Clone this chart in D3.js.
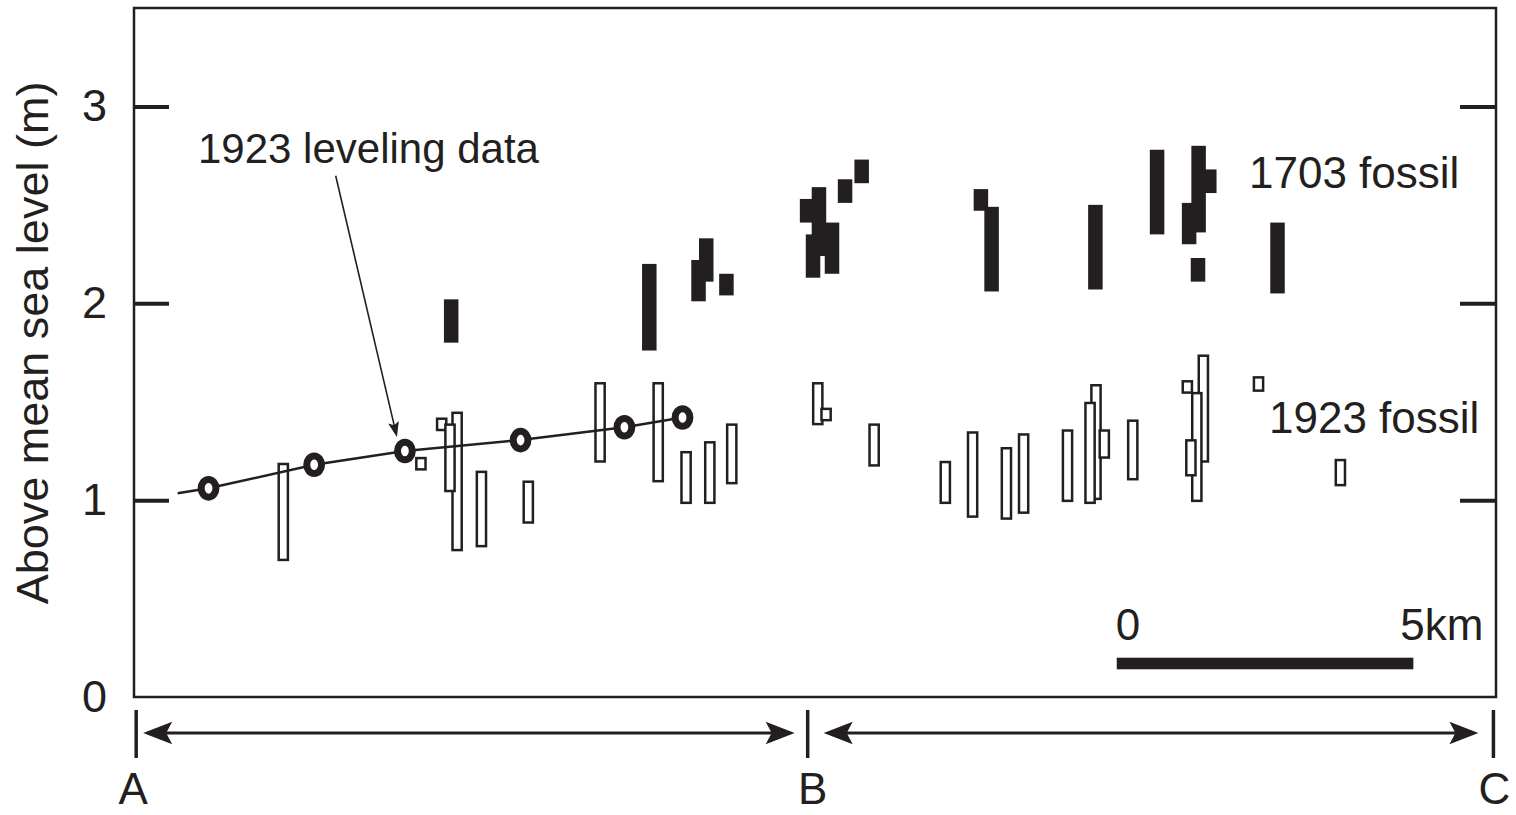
<!DOCTYPE html>
<html>
<head>
<meta charset="utf-8">
<script src="https://cdn.jsdelivr.net/npm/d3@7.9.0/dist/d3.min.js"></script>
<style>
body { margin: 0; background: #fff; }
svg { display: block; font-family: "Liberation Sans", Arial, sans-serif; }
</style>
</head>
<body>
<svg id="chart" width="1516" height="815"></svg>
<script>
// [distance along profile (km), bottom (m), top (m)]
const fossil1703 = [
    [5.33, 1.80, 2.02],
    [8.67, 1.76, 2.20],
    [9.50, 2.01, 2.22],
    [9.63, 2.11, 2.33],
    [9.97, 2.04, 2.15],
    [11.33, 2.41, 2.53],
    [11.53, 2.24, 2.59],
    [11.43, 2.13, 2.35],
    [11.75, 2.15, 2.41],
    [11.97, 2.51, 2.63],
    [12.25, 2.61, 2.73],
    [14.26, 2.47, 2.58],
    [14.44, 2.06, 2.49],
    [16.19, 2.07, 2.50],
    [17.23, 2.35, 2.78],
    [17.93, 2.36, 2.80],
    [18.11, 2.56, 2.68],
    [17.77, 2.30, 2.51],
    [17.92, 2.11, 2.23],
    [19.26, 2.05, 2.41]
];

const fossil1923 = [
    [2.50, 0.69, 1.19],
    [5.17, 1.35, 1.42],
    [4.82, 1.15, 1.22],
    [5.43, 0.74, 1.45],
    [5.31, 1.04, 1.39],
    [5.84, 0.76, 1.15],
    [6.63, 0.88, 1.10],
    [7.84, 1.19, 1.60],
    [8.82, 1.09, 1.60],
    [9.29, 0.98, 1.25],
    [9.69, 0.98, 1.30],
    [10.06, 1.08, 1.39],
    [11.51, 1.38, 1.60],
    [11.65, 1.40, 1.47],
    [12.46, 1.17, 1.39],
    [13.66, 0.98, 1.20],
    [14.12, 0.91, 1.35],
    [14.69, 0.90, 1.27],
    [14.98, 0.93, 1.34],
    [15.72, 0.99, 1.36],
    [16.20, 1.00, 1.59],
    [16.10, 0.98, 1.50],
    [16.34, 1.21, 1.36],
    [16.82, 1.10, 1.41],
    [17.74, 1.54, 1.61],
    [18.01, 1.19, 1.74],
    [17.90, 0.99, 1.55],
    [17.80, 1.12, 1.31],
    [18.94, 1.55, 1.63],
    [20.32, 1.07, 1.21]
];

// 1923 leveling line
const levelingStart = [0.72, 1.035];
const levelingKm = [1.24, 3.02, 4.55, 6.50, 8.25, 9.23];
const levelingM = [1.06, 1.18, 1.25, 1.305, 1.37, 1.42];

const stations = [
    { name: 'A', km: 0.02 },
    { name: 'B', km: 11.34 },
    { name: 'C', km: 22.9 }
];

const yTicks = [0, 1, 2, 3];
const scaleBarKm = [16.55, 21.55];
const scaleBarLabels = ['0', '5km'];

const ink = '#231f20';
const svg = d3.select('#chart');

const frame = { left: 134, right: 1496, top: 8, bottom: 697 };
const labelShift = { A: -3, B: 5, C: 1 };

const x = d3.scaleLinear().domain([0, 23]).range([135, 135 + 23 * 59.32]);
const y = d3.scaleLinear().domain([0, 3.5]).range([697, 8]);

function arrowHead(tx, ty, angle, len, half, notch) {
    // tip at (tx, ty), pointing along angle
    const c = Math.cos(angle), s = Math.sin(angle);
    const pt = (a, b) => [tx - a * c - b * -s, ty - a * s - b * c];
    const p = [pt(0, 0), pt(len, half), pt(len - notch, 0), pt(len, -half)];
    return 'M' + p.map(d => d.join(',')).join('L') + 'Z';
}

// frame
svg.append('rect')
    .attr('x', frame.left)
    .attr('y', frame.top)
    .attr('width', frame.right - frame.left)
    .attr('height', frame.bottom - frame.top)
    .attr('fill', 'none')
    .attr('stroke', ink)
    .attr('stroke-width', 2.5);

// inner ticks left and right
const leftTicks = svg.append('g')
    .attr('transform', `translate(${frame.left},0)`)
    .call(d3.axisRight(y).tickValues([1, 2, 3]).tickSize(35).tickFormat(''));
const rightTicks = svg.append('g')
    .attr('transform', `translate(${frame.right},0)`)
    .call(d3.axisLeft(y).tickValues([1, 2, 3]).tickSize(36).tickFormat(''));
[leftTicks, rightTicks].forEach(g => {
    g.select('.domain').remove();
    g.selectAll('line').attr('stroke', ink).attr('stroke-width', 4);
});

const leftLabels = svg.append('g')
    .attr('transform', `translate(${frame.left},0)`)
    .call(d3.axisLeft(y).tickValues(yTicks).tickSize(0).tickPadding(27).tickFormat(d3.format('d')));
leftLabels.select('.domain').remove();
leftLabels.selectAll('text')
    .attr('font-family', '"Liberation Sans", Arial, sans-serif')
    .attr('font-size', 45)
    .attr('fill', ink);

svg.append('text')
    .attr('transform', 'translate(48,343) rotate(-90)')
    .attr('text-anchor', 'middle')
    .attr('font-size', 45)
    .attr('fill', ink)
    .text('Above mean sea level (m)');

// 1703 fossil (filled)
svg.append('g')
    .selectAll('rect')
    .data(fossil1703)
    .join('rect')
    .attr('x', d => x(d[0]) - 7.25)
    .attr('width', 14.5)
    .attr('y', d => y(d[2]))
    .attr('height', d => y(d[1]) - y(d[2]))
    .attr('fill', ink);

// 1923 fossil (open)
svg.append('g')
    .selectAll('rect')
    .data(fossil1923)
    .join('rect')
    .attr('x', d => x(d[0]) - 4.6)
    .attr('width', 9.2)
    .attr('y', d => y(d[2]) + 1.25)
    .attr('height', d => y(d[1]) - y(d[2]) - 2.5)
    .attr('fill', '#fff')
    .attr('stroke', ink)
    .attr('stroke-width', 2.5);

// leveling line + circles
const leveling = levelingKm.map((k, i) => [k, levelingM[i]]);
svg.append('path')
    .datum([levelingStart, ...leveling])
    .attr('d', d3.line().x(d => x(d[0])).y(d => y(d[1])))
    .attr('fill', 'none')
    .attr('stroke', ink)
    .attr('stroke-width', 2.5);

svg.append('g')
    .selectAll('ellipse')
    .data(leveling)
    .join('ellipse')
    .attr('cx', d => x(d[0]))
    .attr('cy', d => y(d[1]))
    .attr('rx', 7.4)
    .attr('ry', 8.8)
    .attr('fill', '#fff')
    .attr('stroke', ink)
    .attr('stroke-width', 7);

// annotation
svg.append('text')
    .attr('x', 198)
    .attr('y', 163)
    .attr('font-size', 42)
    .attr('fill', ink)
    .text('1923 leveling data');

const target = leveling[2];
const ax0 = 335.7, ay0 = 175.7;
const ax1 = x(target[0]) - 8, ay1 = y(target[1]) - 14;
const ang = Math.atan2(ay1 - ay0, ax1 - ax0);
svg.append('line')
    .attr('x1', ax0).attr('y1', ay0)
    .attr('x2', ax1 - 10 * Math.cos(ang)).attr('y2', ay1 - 10 * Math.sin(ang))
    .attr('stroke', ink)
    .attr('stroke-width', 1.6);
svg.append('path')
    .attr('d', arrowHead(ax1, ay1, ang, 15, 5.5, 3))
    .attr('fill', ink);

svg.append('text')
    .attr('x', 1249)
    .attr('y', 188)
    .attr('font-size', 44)
    .attr('fill', ink)
    .text('1703 fossil');

svg.append('text')
    .attr('x', 1269)
    .attr('y', 433)
    .attr('font-size', 44)
    .attr('fill', ink)
    .text('1923 fossil');

// scale bar
svg.append('rect')
    .attr('x', x(scaleBarKm[0]))
    .attr('width', x(scaleBarKm[1]) - x(scaleBarKm[0]))
    .attr('y', 657.7)
    .attr('height', 11.6)
    .attr('fill', ink);
svg.append('text')
    .attr('x', x(scaleBarKm[0]) - 1)
    .attr('y', 640)
    .attr('font-size', 44)
    .attr('fill', ink)
    .text(scaleBarLabels[0]);
svg.append('text')
    .attr('x', x(scaleBarKm[1]) - 13)
    .attr('y', 640)
    .attr('font-size', 44)
    .attr('fill', ink)
    .text(scaleBarLabels[1]);

// profile stations A - B - C
const st = svg.append('g');
st.selectAll('line')
    .data(stations)
    .join('line')
    .attr('x1', d => x(d.km)).attr('x2', d => x(d.km))
    .attr('y1', 710).attr('y2', 758)
    .attr('stroke', ink)
    .attr('stroke-width', 3.5);
st.selectAll('text')
    .data(stations)
    .join('text')
    .attr('x', d => x(d.km) + labelShift[d.name])
    .attr('y', 804)
    .attr('text-anchor', 'middle')
    .attr('font-size', 44)
    .attr('fill', ink)
    .text(d => d.name);

const arrowY = 733;
const spans = [
    [x(stations[0].km) + 7, x(stations[1].km) - 13],
    [x(stations[1].km) + 16, x(stations[2].km) - 15]
];
spans.forEach(([a, b]) => {
    st.append('line')
        .attr('x1', a + 20).attr('x2', b - 20)
        .attr('y1', arrowY).attr('y2', arrowY)
        .attr('stroke', ink)
        .attr('stroke-width', 3);
    st.append('path').attr('d', arrowHead(a, arrowY, Math.PI, 29, 11.3, 6)).attr('fill', ink);
    st.append('path').attr('d', arrowHead(b, arrowY, 0, 29, 11.3, 6)).attr('fill', ink);
});
</script>
</body>
</html>
